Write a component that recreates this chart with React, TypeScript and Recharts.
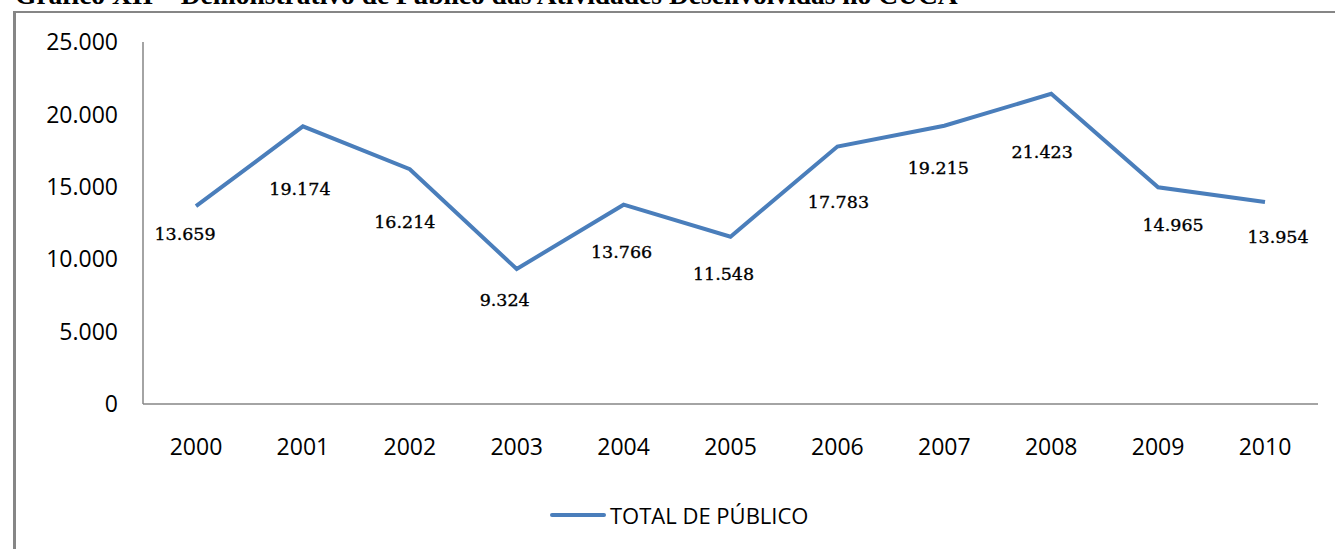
import React from 'react';
import { LineChart, Line, XAxis, YAxis, Legend, LabelList } from 'recharts';

// Anos e total de público por ano
const YEARS = ['2000', '2001', '2002', '2003', '2004', '2005', '2006', '2007', '2008', '2009', '2010'];
const TOTAL_PUBLICO = [13659, 19174, 16214, 9324, 13766, 11548, 17783, 19215, 21423, 14965, 13954];
const Y_TICKS = [0, 5000, 10000, 15000, 20000, 25000];

const SERIES_NAME = 'TOTAL DE PÚBLICO';
const TITLE = 'Gráfico XII – Demonstrativo de Público das Atividades Desenvolvidas no CUCA';

const LINE_COLOR = '#4a7ebb';
const AXIS_COLOR = '#868686';
const SANS = '"Open Sans", sans-serif';

// label nudges (dx, dy) from each point, as the labels were hand-placed in the source
const LABEL_NUDGE: [number, number][] = [
  [-11, 28], [-3, 63], [-5, 53], [-12, 31], [-2, 47], [-7, 37],
  [1, 55], [-6, 42], [-9, 58], [15, 38], [13, 35],
];

const chartData = YEARS.map((year, i) => ({ year, total: TOTAL_PUBLICO[i] }));

function formatThousands(v: number): string {
  return String(v).replace(/\B(?=(\d{3})+(?!\d))/g, '.');
}

function renderValueLabel(props: any) {
  const { x, y, value, index } = props;
  const [dx, dy] = LABEL_NUDGE[index] ?? [0, 40];
  return (
    <text
      x={x + dx}
      y={y + dy}
      textAnchor="middle"
      dominantBaseline="central"
      fontFamily='"DejaVu Serif", serif'
      fontSize={17.5}
      fill="#000"
      stroke="#000"
      strokeWidth={0.35}
    >
      {formatThousands(value)}
    </text>
  );
}

function renderLegend() {
  return (
    <div style={{ display: 'flex', alignItems: 'center', height: 24 }}>
      <svg width={56} height={8} style={{ display: 'block' }}>
        <line x1={2} y1={4} x2={54} y2={4} stroke={LINE_COLOR} strokeWidth={4} strokeLinecap="round" />
      </svg>
      <span style={{ marginLeft: 4, fontFamily: SANS, fontSize: 22, color: '#000', lineHeight: '24px' }}>
        {SERIES_NAME}
      </span>
    </div>
  );
}

export default function App() {
  return (
    <div style={{ position: 'absolute', left: 0, top: 0, width: 1335, height: 549, overflow: 'hidden', background: '#fff' }}>
      {/* title, mostly cut off by the crop */}
      <svg width={1335} height={12} style={{ position: 'absolute', left: 0, top: 0 }}>
        <text x={15} y={4} fontFamily='"Liberation Serif", serif' fontWeight="bold" fontSize={27.5} fill="#000">
          {TITLE}
        </text>
      </svg>

      {/* chart frame */}
      <div
        style={{
          position: 'absolute',
          left: 13,
          top: 11,
          width: 1400,
          height: 600,
          borderLeft: `3px solid ${AXIS_COLOR}`,
          borderTop: `2px solid ${AXIS_COLOR}`,
        }}
      />

      <div style={{ position: 'absolute', left: 0, top: 0 }}>
        <LineChart width={1335} height={549} data={chartData} margin={{ top: 42, right: 17, bottom: 91, left: 0 }}>
          <XAxis
            dataKey="year"
            height={30}
            padding={{ left: 53, right: 53 }}
            axisLine={{ stroke: AXIS_COLOR, strokeWidth: 1.5 }}
            tickLine={false}
            tickMargin={29}
            tick={{ fontFamily: SANS, fontSize: 23, fill: '#000' }}
            interval={0}
          />
          <YAxis
            width={143}
            domain={[0, 25000]}
            ticks={Y_TICKS}
            tickFormatter={formatThousands}
            axisLine={{ stroke: AXIS_COLOR, strokeWidth: 1.5 }}
            tickLine={false}
            tickMargin={19}
            tick={{ fontFamily: SANS, fontSize: 23, fill: '#000' }}
          />
          <Legend
            content={renderLegend}
            wrapperStyle={{ position: 'absolute', left: 550, top: 503, width: 'auto', bottom: 'auto' }}
          />
          <Line
            type="linear"
            dataKey="total"
            name={SERIES_NAME}
            stroke={LINE_COLOR}
            strokeWidth={4}
            dot={false}
            isAnimationActive={false}
          >
            <LabelList dataKey="total" content={renderValueLabel} />
          </Line>
        </LineChart>
      </div>
    </div>
  );
}
